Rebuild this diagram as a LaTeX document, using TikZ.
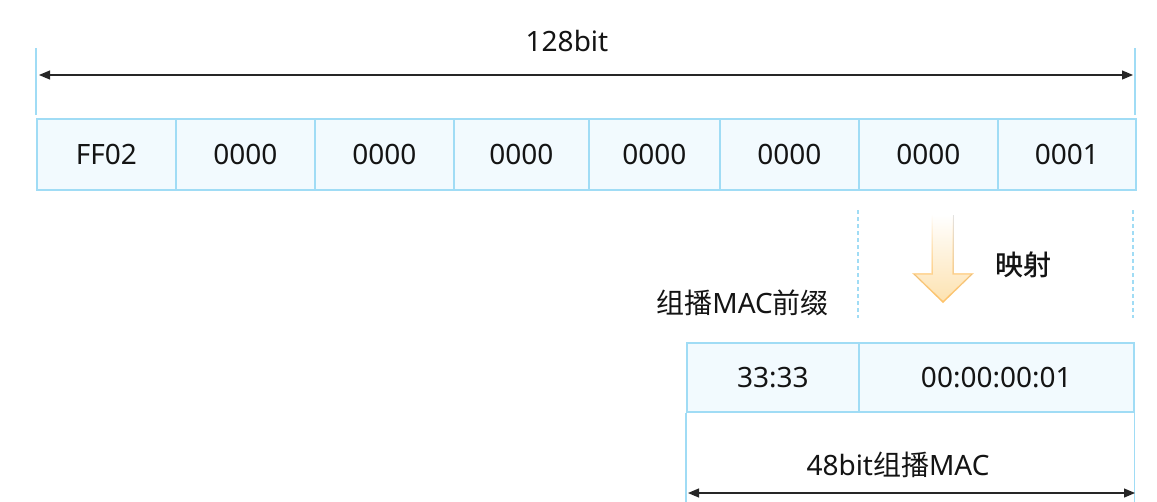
\documentclass[tikz,border=0pt]{standalone}
\usepackage{fontspec}
\setmainfont{Noto Sans}
\newfontfamily\cjk{Noto Sans CJK SC}
\newfontfamily\cjkm{Noto Sans CJK SC Medium}
\usetikzlibrary{arrows.meta,fadings}
\definecolor{cellfill}{HTML}{F2FAFE}
\definecolor{cellline}{HTML}{A0DCF5}
\definecolor{arrfill}{HTML}{FDE2B0}
\definecolor{arrline}{HTML}{FFC46B}
\definecolor{txt}{HTML}{141414}
\tikzset{
  cell/.style={draw=cellline,fill=cellfill,line width=1.6pt,inner sep=0pt,anchor=north west,text=txt},
  lab/.style={text=txt,inner sep=0pt},
  dim/.style={draw=black!85,line width=1.2pt,{Triangle[length=11pt,width=9pt]}-{Triangle[length=11pt,width=9pt]}},
  tick/.style={draw=cellline,line width=1.6pt}
}

\begin{document}
\begin{tikzpicture}[x=1pt,y=-1pt,font=\fontsize{28}{32}\selectfont]
\useasboundingbox (0,0) rectangle (1157,501);
% 128 bit address
\foreach \a/\b/\t [count=\i] in {36/175/FF02,175/314/0000,314/453/0000,453/588/0000,588/719/0000,719/858/0000,858/997/0000,997/1135/0001}
  \node[cell,minimum width={(\b-\a)*1pt},minimum height=71pt] (c\i) at (\a,118) {\t};
\coordinate (tl) at (36,48);
\coordinate (tr) at (1135,48);
\draw[tick] (tl) -- ++(0,67);
\draw[tick] (tr) -- ++(0,67);
\coordinate (al) at (39,75);
\coordinate (ar) at (1133,75);
\draw[dim] (al) -- (ar);
\node[lab] (len1) at (567,41) {128bit};
% mapping
\coordinate (d1) at (858,210);
\coordinate (d2) at (1133,210);
\draw[tick,line width=1.2pt,dash pattern=on 4pt off 3pt] (d1) -- ++(0,108);
\draw[tick,line width=1.2pt,dash pattern=on 4pt off 3pt] (d2) -- ++(0,108);
\fill[top color=white,bottom color=arrfill] (932,215) -- (932,274) -- (914,274) -- (943,302) -- (972,274) -- (953,274) -- (953,215) -- cycle;
\draw[arrline,line width=1.5pt,line join=miter,path fading=north] (932,215) -- (932,274) -- (914,274) -- (943,302) -- (972,274) -- (953,274) -- (953,215);
\node[lab] (map) at (1023,265) {\cjkm 映射};
\node[lab,anchor=east] (pre) at (829,303) {{\cjk 组播}MAC{\cjk 前缀}};
% 48 bit MAC
\node[cell,minimum width=172pt,minimum height=69pt] (m1) at (686,342) {33:33};
\node[cell,minimum width=275pt,minimum height=69pt] (m2) at (858,342) {00:00:00:01};
\draw[tick] (m1.south west) -- ++(0,90);
\draw[tick] (m2.south east) -- ++(0,90);
\coordinate (bl) at (688,493);
\coordinate (br) at (1135,493);
\draw[dim] (bl) -- (br);
\node[lab] (len2) at (898,465) {48bit{\cjk 组播}MAC};
\end{tikzpicture}
\end{document}
